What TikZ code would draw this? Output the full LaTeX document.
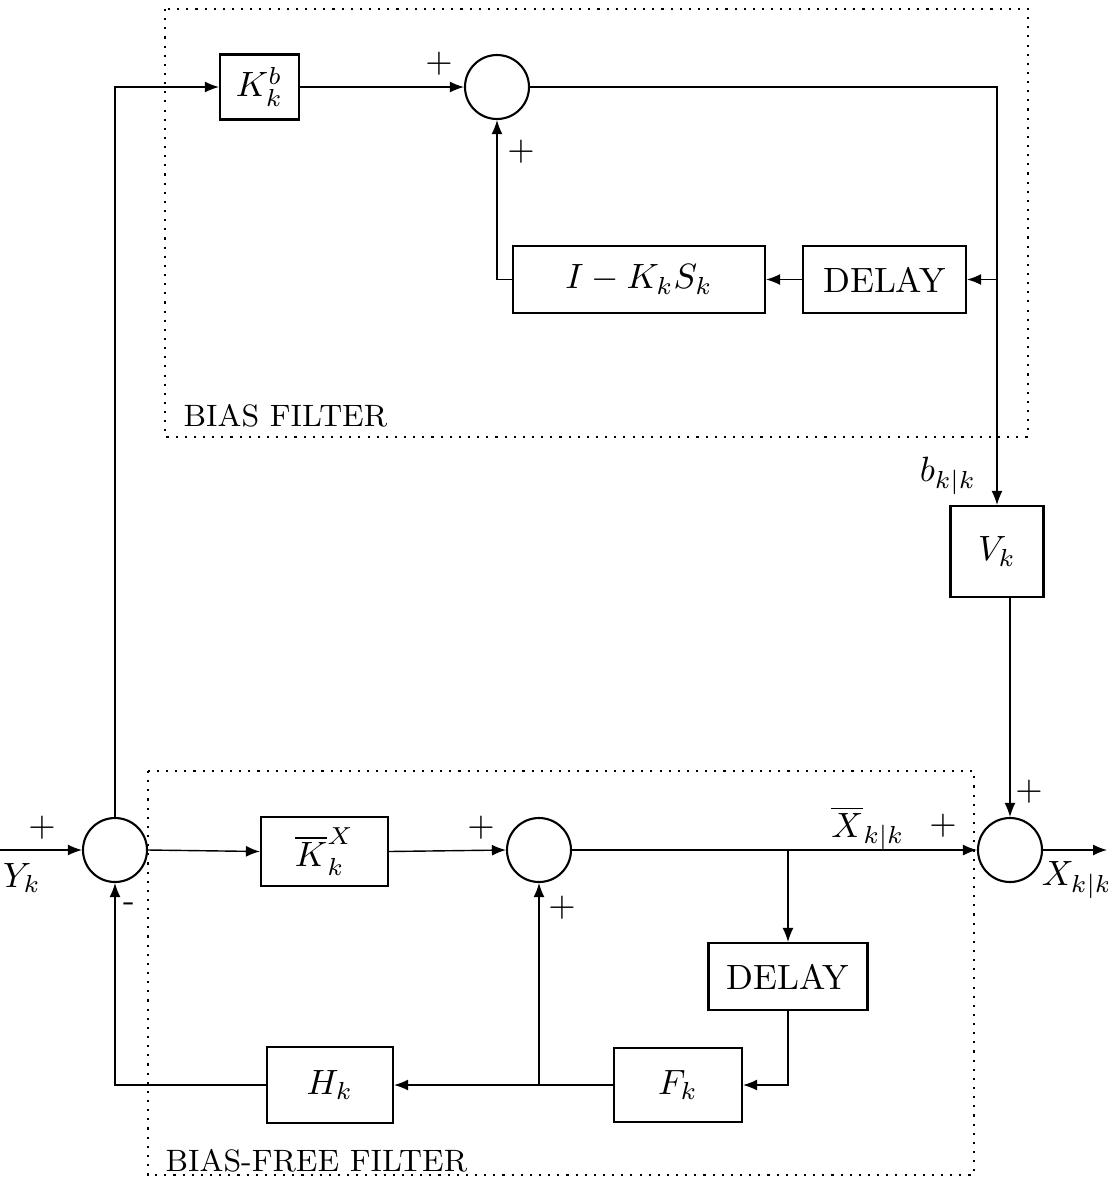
\documentclass[tikz,border=0pt]{standalone}
\usetikzlibrary{arrows.meta}
\begin{document}
\begin{tikzpicture}[y=-1cm, font=\normalsize, >={Latex[length=1.4mm,width=1.1mm]},
	blk/.style={draw, semithick, inner sep=0pt},
	sumnode/.style={draw, semithick, circle, minimum size=0.64cm, inner sep=0pt},
	filterbox/.style={draw, dotted, semithick},
	filterlbl/.style={anchor=west, inner sep=0pt, font=\fontsize{8.8}{10}\selectfont}]
	\useasboundingbox (0,0) rectangle (11.07,11.83);
	% bias filter
	\draw[filterbox] (1.65,0.09) rectangle (10.28,4.37);
	\node[filterlbl] (biaslbl) at (1.83,4.16) {BIAS FILTER};
	\node[blk, minimum width=0.79cm, minimum height=0.65cm] (kb) at (2.595,0.87) {$K^b_k$};
	\node[sumnode] (s1) at (4.97,0.87) {};
	\node[blk, minimum width=2.52cm, minimum height=0.67cm] (iks) at (6.39,2.795) {$I - K_k S_k$};
	\node[blk, minimum width=1.63cm, minimum height=0.67cm] (d1) at (8.845,2.795) {DELAY};
	\node[blk, minimum width=0.93cm, minimum height=0.91cm] (vk) at (9.97,5.515) {$V_k$};
	\coordinate (tap1) at (9.97,2.795);
	\node (blbl) at (9.48,4.76) {$b_{k|k}$};
	% bias-free filter
	\draw[filterbox] (1.48,7.71) rectangle (9.74,11.75);
	\node[filterlbl] (freelbl) at (1.65,11.61) {BIAS-FREE FILTER};
	\node[sumnode] (s0) at (1.15,8.50) {};
	\node[blk, minimum width=1.27cm, minimum height=0.69cm] (kx) at (3.245,8.515) {$\overline{K}^{X}_k$};
	\node[sumnode] (s2) at (5.39,8.50) {};
	\node[sumnode] (s3) at (10.10,8.50) {};
	\node[blk, minimum width=1.59cm, minimum height=0.67cm] (d2) at (7.88,9.765) {DELAY};
	\node[blk, minimum width=1.28cm, minimum height=0.74cm] (fk) at (6.78,10.85) {$F_k$};
	\node[blk, minimum width=1.26cm, minimum height=0.76cm] (hk) at (3.30,10.85) {$H_k$};
	\coordinate (yin) at (0,8.50);
	\coordinate (xout) at (11.07,8.50);
	\coordinate (tap2) at (7.88,8.50);
	\coordinate (tap3) at (5.39,10.85);
	% signals
	\draw[->] (s0.north) |- (kb.west);
	\draw[->] (kb.east) -- (s1.west);
	\draw[->] (s1.east) -| (vk.north);
	\draw[->] (tap1) -- (d1.east);
	\draw[->] (d1.west) -- (iks.east);
	\draw[->] (iks.west) -| (s1.south);
	\draw[->] (vk.south -| s3) -- (s3.north);
	\draw[->] (yin) -- (s0.west);
	\draw[->] (s0.east) -- (kx.west);
	\draw[->] (kx.east) -- (s2.west);
	\draw[->] (s2.east) -- (s3.west);
	\draw[->] (s3.east) -- (xout);
	\draw[->] (tap2) -- (d2.north);
	\draw[->] (d2.south) |- (fk.east);
	\draw[->] (fk.west) -- (hk.east);
	\draw[->] (tap3) -- (s2.south);
	\draw[->] (hk.west) -| (s0.south);
	% signs and labels
	\node (p1) at (4.39,0.64) {$+$};
	\node (p2) at (5.21,1.52) {$+$};
	\node (p3) at (0.42,8.28) {$+$};
	\node (m1) at (1.29,9.07) {-};
	\node (p4) at (4.81,8.28) {$+$};
	\node (p5) at (5.62,9.08) {$+$};
	\node (p6) at (9.43,8.26) {$+$};
	\node (p7) at (10.29,7.92) {$+$};
	\node (ylbl) at (0.22,8.78) {$Y_k$};
	\node (xbar) at (8.68,8.28) {$\overline{X}_{k|k}$};
	\node (xlbl) at (10.77,8.80) {$X_{k|k}$};
\end{tikzpicture}
\end{document}
